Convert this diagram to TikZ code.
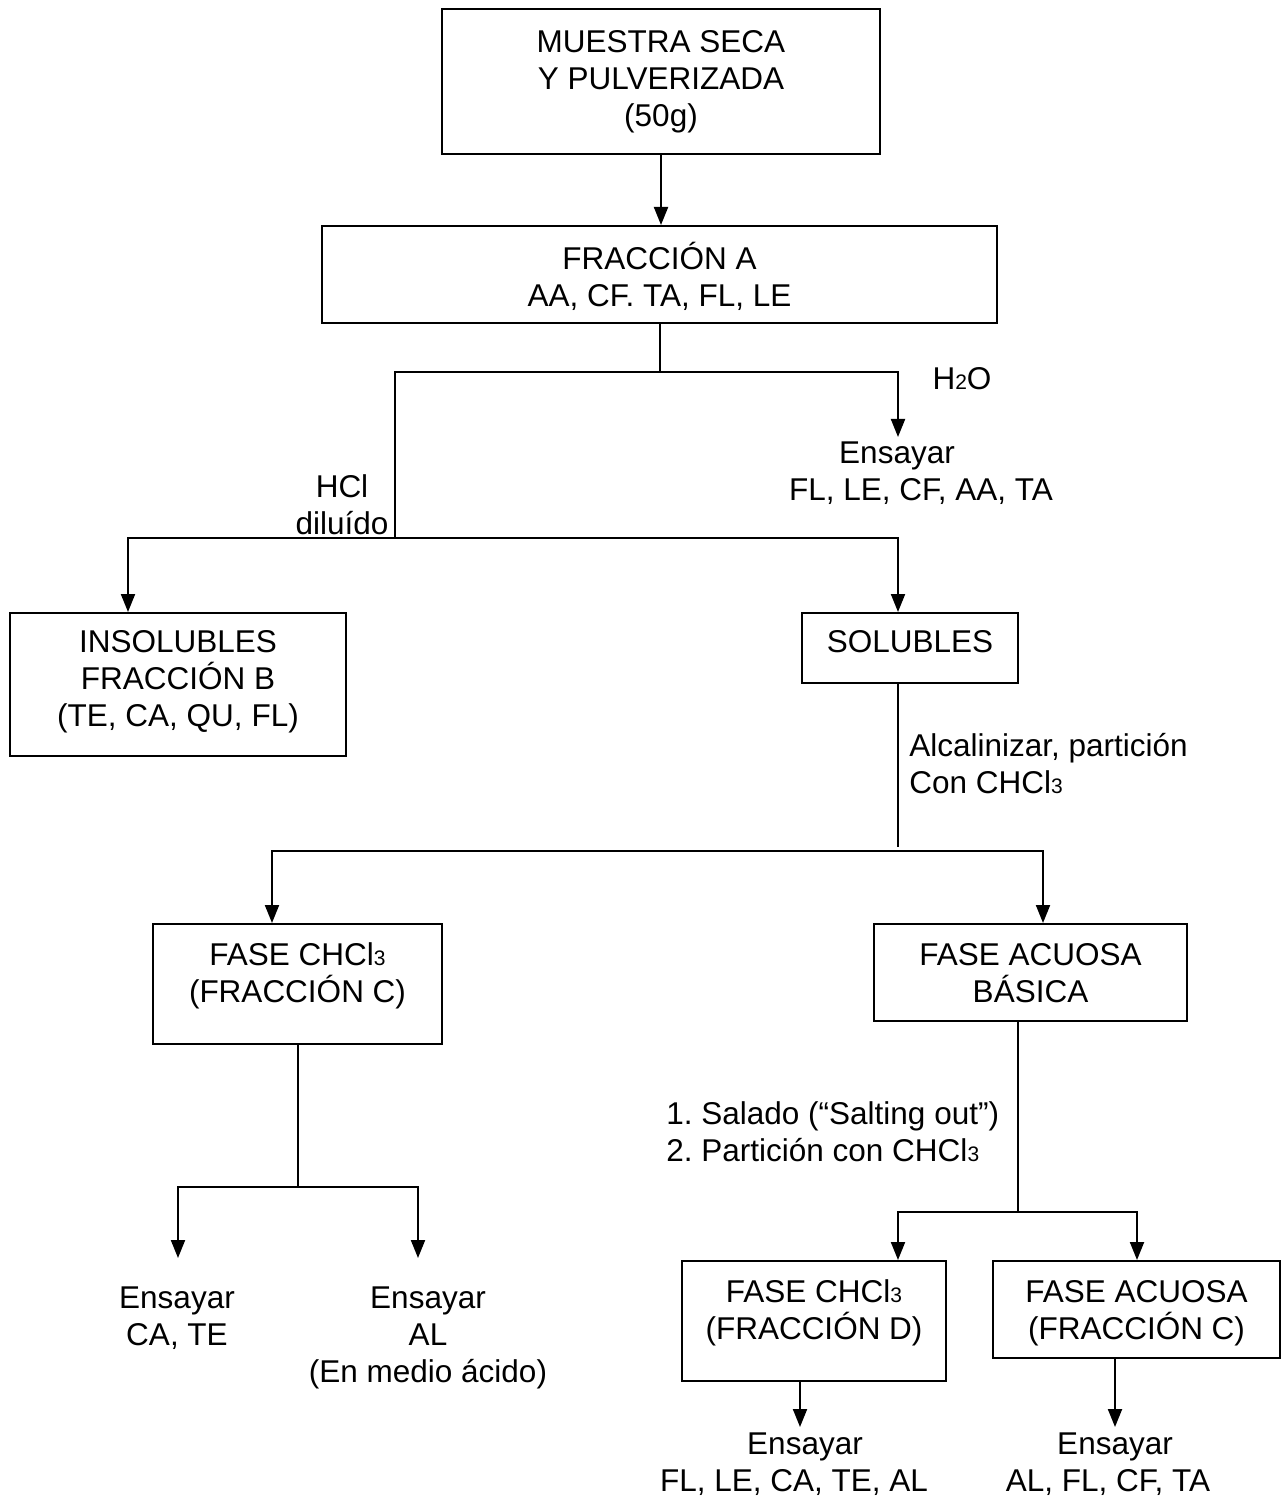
\documentclass[tikz,border=0pt]{standalone}
\usepackage{fontspec}
\setmainfont{Liberation Sans}
\usetikzlibrary{arrows.meta}
\frenchspacing
% small digit set on the baseline (formula indices)
\newcommand\subs[1]{{\fontsize{10.5pt}{10pt}\selectfont #1}}
% box contents: width, height, first-baseline offset, text
\newcommand\bxt[4]{\parbox[c][#2][t]{#1}{\centering\rule{0pt}{#3}#4\par}}
\begin{document}
\begin{tikzpicture}[x=0.5pt,y=-0.5pt,
  every node/.style={font=\fontsize{15.75pt}{18.5pt}\selectfont},
  box/.style={draw,line width=1pt,inner sep=0pt,anchor=north},
  txt/.style={inner sep=0pt,anchor=north,align=center},
  txtl/.style={inner sep=0pt,anchor=north west,align=left},
  link/.style={line width=1pt,line cap=rect},
  arr/.style={line width=1pt,-{Triangle[width=7pt,length=9pt]}}]
\useasboundingbox (0,0) rectangle (1281,1497);
\fill[white] (0,0) rectangle (1281,1497);

% boxes
\node[box] (m)  at (661,8)      {\bxt{219pt}{72.5pt}{21.6pt}{MUESTRA SECA\\Y PULVERIZADA\\(50g)}};
\node[box] (a)  at (659.5,225)  {\bxt{337.5pt}{48.5pt}{21.6pt}{FRACCIÓN A\\AA, CF. TA, FL, LE}};
\node[box] (b)  at (178,612)    {\bxt{168pt}{71.5pt}{19.6pt}{INSOLUBLES\\FRACCIÓN B\\(TE, CA, QU, FL)}};
\node[box] (s)  at (910,612)    {\bxt{108pt}{35pt}{19.6pt}{SOLUBLES}};
\node[box] (c)  at (297.5,923)  {\bxt{144.5pt}{60pt}{20.6pt}{FASE CHCl\subs{3}\\(FRACCIÓN C)}};
\node[box] (ab) at (1030.5,923) {\bxt{156.5pt}{48.5pt}{20.6pt}{FASE ACUOSA\\BÁSICA}};
\node[box] (d)  at (814,1260)   {\bxt{132pt}{60pt}{20.6pt}{FASE CHCl\subs{3}\\(FRACCIÓN D)}};
\node[box] (ac) at (1136.5,1260){\bxt{143.5pt}{48.5pt}{20.6pt}{FASE ACUOSA\\(FRACCIÓN C)}};

% free texts
\node[txt]  (h2o) at (962,363.3)   {\strut H\subs{2}O};
\node[txt]  (e1)  at (921,437.3)   {\strut Ensayar\hspace*{24pt}\\FL, LE, CF, AA, TA};
\node[txt]  (hcl) at (342,471.3)   {\strut HCl\\diluído};
\node[txtl] (alc) at (909,730.3)   {\strut Alcalinizar, partición\\Con CHCl\subs{3}};
\node[txtl] (sal) at (666,1098.3)  {\strut 1. Salado (“Salting out”)\\2. Partición con CHCl\subs{3}};
\node[txt]  (e2)  at (177,1282.3)  {\strut Ensayar\\CA, TE};
\node[txt]  (e3)  at (428,1282.3)  {\strut Ensayar\\AL\\(En medio ácido)};
\node[txt]  (e4)  at (794,1428)    {\strut\hspace*{11pt}Ensayar\\FL, LE, CA, TE, AL};
\node[txt]  (e5)  at (1108,1428)   {\strut\hspace*{7pt}Ensayar\\AL, FL, CF, TA};

% branch points and arrow ends
\coordinate (jl) at (395,372);
\coordinate (jr) at (898,372);
\coordinate (t1) at (898,437);
\coordinate (k0) at (395,538);
\coordinate (kl) at (128,538);
\coordinate (kr) at (898,538);
\coordinate (s0) at (898,846);
\coordinate (ml) at (272,851);
\coordinate (mr) at (1043,851);
\coordinate (c0) at (298,1187);
\coordinate (cl) at (178,1187);
\coordinate (cr) at (418,1187);
\coordinate (tl) at (178,1258);
\coordinate (tr) at (418,1258);
\coordinate (b0) at (1018,1212);
\coordinate (bl) at (898,1212);
\coordinate (br) at (1137,1212);
\coordinate (td) at (800,1427);
\coordinate (tc) at (1115,1427);

% connectors
\draw[arr]  (m.south) -- (m.south |- a.north);
\draw[link] (a.south) -- (a.south |- jl);
\draw[link] (jl) -- (jr);
\draw[arr]  (jr) -- (t1);
\draw[link] (jl) -- (k0);
\draw[link] (kl) -- (kr);
\draw[arr]  (kl) -- (kl |- b.north);
\draw[arr]  (kr) -- (kr |- s.north);
\draw[link] (kr |- s.south) -- (s0);
\draw[link] (ml) -- (mr);
\draw[arr]  (ml) -- (ml |- c.north);
\draw[arr]  (mr) -- (mr |- ab.north);
\draw[link] (c0 |- c.south) -- (c0);
\draw[link] (cl) -- (cr);
\draw[arr]  (cl) -- (tl);
\draw[arr]  (cr) -- (tr);
\draw[link] (b0 |- ab.south) -- (b0);
\draw[link] (bl) -- (br);
\draw[arr]  (bl) -- (bl |- d.north);
\draw[arr]  (br) -- (br |- ac.north);
\draw[arr]  (td |- d.south) -- (td);
\draw[arr]  (tc |- ac.south) -- (tc);
\end{tikzpicture}
\end{document}
